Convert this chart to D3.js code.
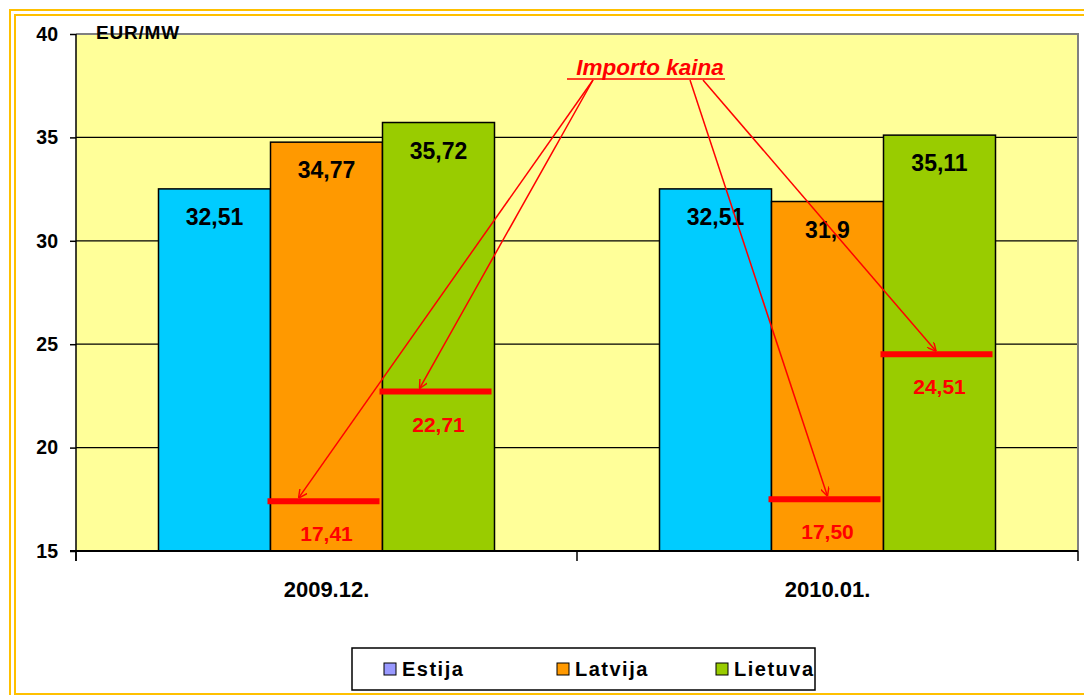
<!DOCTYPE html>
<html>
<head>
<meta charset="utf-8">
<script src="https://cdn.jsdelivr.net/npm/d3@7"></script>
<style>
  html, body { margin: 0; padding: 0; background: #fff; }
  svg { display: block; font-family: Arial, "Liberation Sans", sans-serif; }
</style>
</head>
<body>
<svg id="chart" width="1084" height="695"></svg>
<script>
// chart data
const categories = ['2009.12.', '2010.01.']
const series = ['Estija', 'Latvija', 'Lietuva']
const estija = [32.51, 32.51]
const latvija = [34.77, 31.9]
const lietuva = [35.72, 35.11]
const importLatvija = [17.41, 17.50]
const importLietuva = [22.71, 24.51]
const yTicks = [15, 20, 25, 30, 35, 40]

const barColors = { Estija: '#00ccff', Latvija: '#ff9900', Lietuva: '#99cc00' }
const legendColors = { Estija: '#9999ff', Latvija: '#ff9900', Lietuva: '#99cc00' }

const svg = d3.select('#chart')
const plot = { left: 76, right: 1078, top: 34, bottom: 551 }

// outer gold double frame (runs off the right/bottom edge)
svg.append('rect').attr('x', 10).attr('y', 10).attr('width', 1100).attr('height', 700)
  .attr('fill', 'none').attr('stroke', '#ffc000').attr('stroke-width', 2)
svg.append('rect').attr('x', 15).attr('y', 15).attr('width', 1090).attr('height', 679)
  .attr('fill', 'none').attr('stroke', '#ffc000').attr('stroke-width', 2)

const x0 = d3.scaleBand().domain(categories).range([plot.left, plot.right]).padding(0)
const barW = 112
const x1 = d3.scaleBand().domain(series).range([0, barW * 3]).padding(0)
const groupOff = (x0.bandwidth() - barW * 3) / 2
const y = d3.scaleLinear().domain([15, 40]).range([plot.bottom, plot.top])

// plot background
svg.append('rect')
  .attr('x', plot.left).attr('y', plot.top)
  .attr('width', plot.right - plot.left).attr('height', plot.bottom - plot.top)
  .attr('fill', '#ffff99')

// gridlines
svg.append('g').selectAll('line').data(yTicks.slice(1, -1)).join('line')
  .attr('x1', plot.left).attr('x2', plot.right)
  .attr('y1', d => y(d)).attr('y2', d => y(d))
  .attr('stroke', '#000').attr('stroke-width', 1.2)

// top + right border
svg.append('path')
  .attr('d', `M${plot.left},${plot.top}H${plot.right}V${plot.bottom}`)
  .attr('fill', 'none').attr('stroke', '#808080').attr('stroke-width', 2)

// bars
const rows = categories.map((c, i) => ({ cat: c, values: [estija[i], latvija[i], lietuva[i]] }))
const groups = svg.append('g').selectAll('g').data(rows).join('g')
  .attr('transform', d => `translate(${x0(d.cat) + groupOff},0)`)

groups.selectAll('rect').data(d => d.values.map((v, j) => ({ key: series[j], v }))).join('rect')
  .attr('x', d => x1(d.key)).attr('width', x1.bandwidth())
  .attr('y', d => y(d.v)).attr('height', d => y(15) - y(d.v))
  .attr('fill', d => barColors[d.key])
  .attr('stroke', '#000').attr('stroke-width', 1.5)

groups.selectAll('text.val').data(d => d.values.map((v, j) => ({ key: series[j], v }))).join('text')
  .attr('class', 'val')
  .attr('x', d => x1(d.key) + x1.bandwidth() / 2)
  .attr('y', d => y(d.v) + 36)
  .attr('text-anchor', 'middle')
  .attr('font-size', 23).attr('font-weight', 'bold').attr('fill', '#000')
  .text(d => String(d.v).replace('.', ','))

// import price markers
const imports = []
categories.forEach((c, i) => {
  imports.push({ cat: c, key: 'Latvija', v: importLatvija[i], tx: i === 0 ? 0.25 : 0.5 })
  imports.push({ cat: c, key: 'Lietuva', v: importLietuva[i], tx: i === 0 ? 0.33 : 0.47 })
})
const impX = d => x0(d.cat) + groupOff + x1(d.key)

svg.append('g').selectAll('line').data(imports).join('line')
  .attr('x1', d => impX(d) - 3).attr('x2', d => impX(d) + x1.bandwidth() - 3)
  .attr('y1', d => y(d.v)).attr('y2', d => y(d.v))
  .attr('stroke', '#ff0000').attr('stroke-width', 6)

svg.append('g').selectAll('text').data(imports).join('text')
  .attr('x', d => impX(d) + x1.bandwidth() / 2)
  .attr('y', d => y(d.v) + 40)
  .attr('text-anchor', 'middle')
  .attr('font-size', 21).attr('font-weight', 'bold').attr('fill', '#ff0000')
  .text(d => d.v.toFixed(2).replace('.', ','))

// annotation with arrows
svg.append('defs').append('marker')
  .attr('id', 'arr').attr('viewBox', '0 0 10 10').attr('refX', 10).attr('refY', 5)
  .attr('markerWidth', 9).attr('markerHeight', 9).attr('markerUnits', 'userSpaceOnUse')
  .attr('orient', 'auto')
  .append('path').attr('d', 'M0,0L10,5L0,10').attr('fill', 'none')
  .attr('stroke', '#ff0000').attr('stroke-width', 1.6)

svg.append('text')
  .attr('x', 650).attr('y', 75)
  .attr('text-anchor', 'middle')
  .attr('font-size', 22.5).attr('font-weight', 'bold').attr('font-style', 'italic')
  .attr('fill', '#ff0000')
  .text('Importo kaina')
svg.append('line').attr('x1', 567).attr('x2', 725).attr('y1', 79).attr('y2', 79)
  .attr('stroke', '#ff0000').attr('stroke-width', 1.5)

const arrowSrc = [593, 593, 690, 703]
svg.append('g').selectAll('line').data(imports).join('line')
  .attr('x1', (d, i) => arrowSrc[i]).attr('y1', 80)
  .attr('x2', d => impX(d) + x1.bandwidth() * d.tx)
  .attr('y2', d => y(d.v) - 3)
  .attr('stroke', '#ff0000').attr('stroke-width', 1.5)
  .attr('marker-end', 'url(#arr)')

// axes
const yAxis = svg.append('g').attr('transform', `translate(${plot.left},0)`)
  .call(d3.axisLeft(y).tickValues(yTicks).tickSize(6).tickPadding(12).tickFormat(d3.format('d')))
yAxis.select('.domain').attr('stroke', '#000').attr('stroke-width', 1.5)
  .attr('d', `M0,${plot.top}V${plot.bottom + 10}`)
yAxis.selectAll('.tick line').attr('stroke', '#000').attr('stroke-width', 1.5)
yAxis.selectAll('.tick text').attr('font-size', 19.5).attr('font-weight', 'bold')
  .attr('font-family', 'Arial, "Liberation Sans", sans-serif').attr('fill', '#000')

const xAxis = svg.append('g').attr('transform', `translate(0,${plot.bottom})`)
xAxis.append('line').attr('x1', plot.left - 6).attr('x2', plot.right)
  .attr('stroke', '#000').attr('stroke-width', 2)
const bounds = [plot.left, ...categories.map(c => x0(c) + x0.bandwidth())]
xAxis.selectAll('line.tk').data(bounds).join('line').attr('class', 'tk')
  .attr('x1', d => d).attr('x2', d => d).attr('y1', 0).attr('y2', 10)
  .attr('stroke', '#000').attr('stroke-width', 1.5)
xAxis.selectAll('text').data(categories).join('text')
  .attr('x', d => x0(d) + x0.bandwidth() / 2).attr('y', 46)
  .attr('text-anchor', 'middle')
  .attr('font-size', 22).attr('font-weight', 'bold')
  .text(d => d)

// unit label
svg.append('text').attr('x', 96).attr('y', 39)
  .attr('font-size', 19).attr('font-weight', 'bold').attr('letter-spacing', 0.8).text('EUR/MW')

// legend
const lg = svg.append('g').attr('transform', 'translate(352,648)')
lg.append('rect').attr('width', 463).attr('height', 42)
  .attr('fill', '#fff').attr('stroke', '#000').attr('stroke-width', 1.5)
const lgX = [32, 205, 364]
const items = lg.selectAll('g').data(series).join('g')
  .attr('transform', (d, i) => `translate(${lgX[i]},0)`)
items.append('rect').attr('y', 15).attr('width', 12).attr('height', 12)
  .attr('fill', d => legendColors[d]).attr('stroke', '#000').attr('stroke-width', 1)
items.append('text').attr('x', 18).attr('y', 28)
  .attr('font-size', 20).attr('font-weight', 'bold').attr('letter-spacing', 1.5)
  .text(d => d)
</script>
</body>
</html>
